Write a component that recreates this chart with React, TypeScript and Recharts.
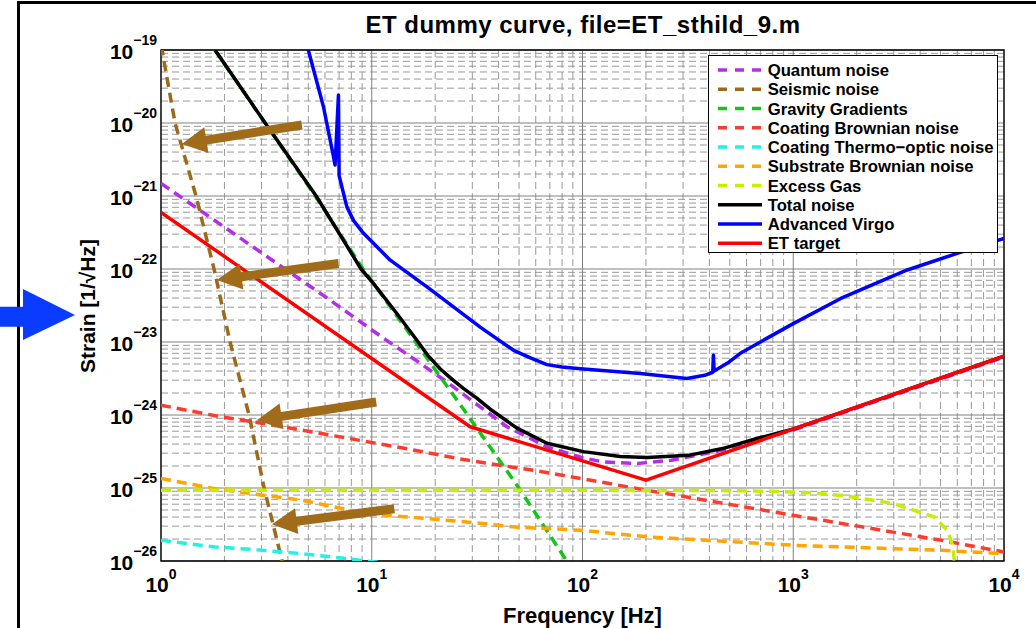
import React from "react";
import {
  LineChart,
  Line,
  XAxis,
  YAxis,
  CartesianGrid,
  ReferenceLine,
  ReferenceArea,
  Legend,
} from "recharts";

const FONT = "'Liberation Sans', Arial, Helvetica, sans-serif";

// frequency [Hz] and strain [1/sqrt(Hz)]
const quantumFreq = [1, 6.35, 11.4, 17, 22.7, 30.4, 43.8, 67.8, 100, 125, 182, 264, 383, 462, 672, 1014, 10000];
const quantumStrain = [1.49e-21, 3.74e-23, 1.12e-23, 5.1e-24, 2.84e-24, 1.51e-24, 6.9e-25, 3.66e-25, 2.6e-25, 2.28e-25, 2.16e-25, 2.4e-25, 2.96e-25, 3.3e-25, 4.5e-25, 6.3e-25, 6.2e-24];

const seismicFreq = [1, 1.011, 1.166, 1.466, 1.785, 2.127, 2.617, 3.084, 3.755, 3.85];
const seismicStrain = [1.15e-19, 1e-19, 1e-20, 1e-21, 1e-22, 1e-23, 1e-24, 1e-25, 1e-26, 8e-27];

const gravityFreq = [1.8, 3.12, 5.39, 9.1, 16.13, 28.5, 49.9, 84.2, 88];
const gravityStrain = [1e-19, 1e-20, 1e-21, 1e-22, 1e-23, 1e-24, 1e-25, 1e-26, 8e-27];

const coatBrownFreq = [1, 1.94, 3.12, 4.66, 6.35, 13.15, 27.3, 65.4, 203, 1014, 5060, 10000];
const coatBrownStrain = [1.36e-24, 9.4e-25, 7.6e-25, 6.2e-25, 5.3e-25, 3.66e-25, 2.45e-25, 1.66e-25, 9.3e-26, 4.2e-26, 1.92e-26, 1.33e-26];

const thermoOpticFreq = [1, 1.805, 2.8, 4.66, 6.58, 9.48, 11];
const thermoOpticStrain = [1.92e-26, 1.56e-26, 1.43e-26, 1.26e-26, 1.13e-26, 1e-26, 9.5e-27];

const substrateFreq = [1, 1.805, 3.12, 4.66, 9.48, 28.3, 48, 99.8, 203, 1014, 5060, 10000];
const substrateStrain = [1.35e-25, 9.8e-26, 7.9e-26, 6.8e-26, 4.46e-26, 3.43e-26, 2.92e-26, 2.63e-26, 2.14e-26, 1.64e-26, 1.4e-26, 1.26e-26];

const excessGasFreq = [1, 100, 500, 800, 1200, 1710, 3000, 4690, 5400, 5700, 5800, 5850];
const excessGasStrain = [9.3e-26, 9.3e-26, 9.2e-26, 9.0e-26, 8.6e-26, 7.9e-26, 6.1e-26, 4.0e-26, 2.6e-26, 1.64e-26, 1.07e-26, 9.5e-27];

const totalFreq = [1.805, 3.12, 5.45, 8.9, 10.2, 13.15, 16.6, 18.5, 21.1, 24, 27.3, 31.5, 36.5, 48.9, 67.8, 101, 151, 203, 318, 462, 672, 1014, 10000];
const totalStrain = [1e-19, 1e-20, 1e-21, 1e-22, 6.3e-23, 2.46e-23, 1e-23, 6.5e-24, 4.3e-24, 3.1e-24, 2.3e-24, 1.7e-24, 1.2e-24, 6.6e-25, 4.1e-25, 3.15e-25, 2.7e-25, 2.62e-25, 2.8e-25, 3.47e-25, 4.76e-25, 6.5e-25, 6.4e-24];

const virgoFreq = [5, 5.9, 6.58, 6.7, 6.95, 7.0, 7.08, 7.62, 8.2, 9.14, 10.96, 12.2, 18.9, 32.7, 47.1, 57, 67.8, 80, 97.6, 188, 313, 380, 415, 418, 421, 486, 561, 752, 1005, 1680, 3475, 6000, 10000];
const virgoStrain = [1e-19, 1.67e-20, 3.5e-21, 2.65e-21, 2.42e-20, 1.9e-21, 1.66e-21, 7.1e-22, 4.6e-22, 3.08e-22, 1.82e-22, 1.33e-22, 5.3e-23, 1.6e-23, 7.7e-24, 6.0e-24, 4.9e-24, 4.55e-24, 4.3e-24, 3.7e-24, 3.16e-24, 3.5e-24, 3.85e-24, 6.6e-24, 4.0e-24, 5.1e-24, 7.0e-24, 1.13e-23, 1.8e-23, 3.95e-23, 9.7e-23, 1.64e-22, 2.63e-22];

const etFreq = [1, 29.3, 200, 10000];
const etStrain = [5.95e-22, 6.9e-25, 1.28e-25, 6.4e-24];

// brown annotation arrows (tail -> tip)
const arrowTailFreq = [4.66, 6.95, 10.5, 12.8];
const arrowTailStrain = [9.4e-21, 1.19e-22, 1.51e-24, 5.2e-26];
const arrowTipFreq = [1.254, 1.84, 2.85, 3.36];
const arrowTipStrain = [5.15e-21, 7.05e-23, 8.5e-25, 3.18e-26];

const xDecades = [1, 10, 100, 1000, 10000];
const yDecades = [1e-26, 1e-25, 1e-24, 1e-23, 1e-22, 1e-21, 1e-20, 1e-19];
const minorSteps = [2, 3, 4, 5, 6, 7, 8, 9];

const xMinor = xDecades.slice(0, -1).flatMap((d) => minorSteps.map((k) => k * d));
const yMinor = yDecades.slice(0, -1).flatMap((d) => minorSteps.map((k) => k * d));

const toPoints = (freq: number[], strain: number[]) =>
  freq.map((f, i) => ({ f, h: strain[i] }));

const series = [
  { name: "Quantum noise", freq: quantumFreq, strain: quantumStrain, color: "#b42ee8", dashed: true },
  { name: "Seismic noise", freq: seismicFreq, strain: seismicStrain, color: "#9c6a18", dashed: true },
  { name: "Gravity Gradients", freq: gravityFreq, strain: gravityStrain, color: "#14c41a", dashed: true },
  { name: "Coating Brownian noise", freq: coatBrownFreq, strain: coatBrownStrain, color: "#ff3b2f", dashed: true },
  { name: "Coating Thermo\u2212optic noise", freq: thermoOpticFreq, strain: thermoOpticStrain, color: "#1ff2e6", dashed: true },
  { name: "Substrate Brownian noise", freq: substrateFreq, strain: substrateStrain, color: "#ffa600", dashed: true },
  { name: "Excess Gas", freq: excessGasFreq, strain: excessGasStrain, color: "#c6ef00", dashed: true },
  { name: "Total noise", freq: totalFreq, strain: totalStrain, color: "#000000", dashed: false },
  { name: "Advanced Virgo", freq: virgoFreq, strain: virgoStrain, color: "#0000ff", dashed: false },
  { name: "ET target", freq: etFreq, strain: etStrain, color: "#ff0000", dashed: false },
];

function XTick(props: any) {
  const { x, y, payload } = props;
  const exp = Math.round(Math.log10(payload.value));
  return (
    <text x={x} y={y + 31} textAnchor="middle" fontFamily={FONT} fontWeight="bold" fill="#000">
      <tspan fontSize={21}>10</tspan>
      <tspan fontSize={14} dy={-13.5}>{exp}</tspan>
    </text>
  );
}

function YTick(props: any) {
  const { x, y, payload } = props;
  const exp = Math.round(Math.log10(payload.value));
  return (
    <text x={x - 4} y={y + 9} textAnchor="end" fontFamily={FONT} fontWeight="bold" fill="#000">
      <tspan fontSize={21}>10</tspan>
      <tspan fontSize={14} dy={-14}>{"\u2212" + Math.abs(exp)}</tspan>
    </text>
  );
}

function ArrowShape(props: any) {
  const { x1, y1, x2, y2 } = props;
  const dx = x2 - x1;
  const dy = y2 - y1;
  const len = Math.hypot(dx, dy) || 1;
  const ux = dx / len;
  const uy = dy / len;
  const nx = -uy;
  const ny = ux;
  const head = 25;
  const hw = 13;
  const sw = 4.5;
  const bx = x2 - ux * head;
  const by = y2 - uy * head;
  const pts = [
    [x1 + nx * sw, y1 + ny * sw],
    [bx + nx * sw, by + ny * sw],
    [bx + nx * hw, by + ny * hw],
    [x2, y2],
    [bx - nx * hw, by - ny * hw],
    [bx - nx * sw, by - ny * sw],
    [x1 - nx * sw, y1 - ny * sw],
  ];
  return <polygon points={pts.map((p) => p.join(",")).join(" ")} fill="#a06c1a" />;
}

function LegendBox() {
  return (
    <div
      style={{
        width: 290,
        height: 198,
        background: "#fff",
        border: "1px solid #000",
        boxSizing: "border-box",
      }}
    >
      <svg width={288} height={196} style={{ display: "block" }}>
        {series.map((s, i) => {
          const cy = 14 + i * 19.26;
          return (
            <g key={s.name}>
              <line
                x1={9}
                x2={53}
                y1={cy}
                y2={cy}
                stroke={s.color}
                strokeWidth={3.5}
                strokeDasharray={s.dashed ? "9 8" : undefined}
              />
              <text x={58.7} y={cy + 6} fontFamily={FONT} fontWeight="bold" fontSize={16.7} fill="#000">
                {s.name}
              </text>
            </g>
          );
        })}
      </svg>
    </div>
  );
}

export default function App() {
  return (
    <div style={{ position: "absolute", left: 0, top: 0, width: 1036, height: 628, background: "#fff" }}>
      <LineChart width={1036} height={628} margin={{ top: 50, right: 32, bottom: 27, left: 91 }}>
        <CartesianGrid
          verticalValues={xMinor}
          horizontalValues={yMinor}
          stroke="#999999"
          strokeDasharray="7 4"
          strokeWidth={1}
        />
        <CartesianGrid
          verticalValues={xDecades}
          horizontalValues={yDecades}
          stroke="#808080"
          strokeWidth={1}
        />
        <XAxis
          type="number"
          dataKey="f"
          scale="log"
          domain={[1, 10000]}
          allowDataOverflow
          ticks={xDecades}
          interval={0}
          tick={<XTick />}
          tickLine={false}
          tickSize={0}
          tickMargin={0}
          axisLine={false}
          height={40}
        />
        <YAxis
          type="number"
          scale="log"
          domain={[1e-26, 1e-19]}
          allowDataOverflow
          ticks={yDecades}
          interval={0}
          tick={<YTick />}
          tickLine={false}
          tickSize={0}
          tickMargin={0}
          axisLine={false}
          width={70}
        />
        {series.map((s) => (
          <Line
            key={s.name}
            name={s.name}
            data={toPoints(s.freq, s.strain)}
            dataKey="h"
            type="linear"
            stroke={s.color}
            strokeWidth={3.5}
            strokeDasharray={s.dashed ? "10 6" : undefined}
            strokeLinejoin="round"
            dot={false}
            activeDot={false}
            isAnimationActive={false}
          />
        ))}
        <ReferenceArea
          x1={1}
          x2={10000}
          y1={1e-26}
          y2={1e-19}
          fill="none"
          stroke="#000"
          strokeWidth={1.3}
          ifOverflow="visible"
        />
        {arrowTailFreq.map((f, i) => (
          <ReferenceLine
            key={"arrow" + i}
            segment={[
              { x: f, y: arrowTailStrain[i] },
              { x: arrowTipFreq[i], y: arrowTipStrain[i] },
            ]}
            ifOverflow="visible"
            shape={ArrowShape}
          />
        ))}
        <Legend
          layout="vertical"
          align="center"
          verticalAlign="middle"
          wrapperStyle={{ left: 708, top: 55, width: 290, height: 198 }}
          content={() => <LegendBox />}
        />
      </LineChart>
      <svg
        width={1036}
        height={628}
        style={{ position: "absolute", left: 0, top: 0, pointerEvents: "none" }}
      >
        <line x1={18.5} y1={1} x2={18.5} y2={628} stroke="#000" strokeWidth={3} />
        <line x1={17} y1={2.5} x2={1036} y2={2.5} stroke="#000" strokeWidth={3} />
        <polygon points="0,306.7 23,306.7 23,289 75,315 23,340 23,326.7 0,326.7" fill="#0a3cff" />
        <text
          x={583}
          y={33}
          textAnchor="middle"
          fontFamily={FONT}
          fontWeight="bold"
          fontSize={24}
          letterSpacing={0.5}
          fill="#000"
        >
          ET dummy curve, file=ET_sthild_9.m
        </text>
        <text x={582.5} y={623} textAnchor="middle" fontFamily={FONT} fontWeight="bold" fontSize={22} fill="#000">
          Frequency [Hz]
        </text>
        <text
          transform="translate(95,306) rotate(-90)"
          textAnchor="middle"
          fontFamily={FONT}
          fontWeight="bold"
          fontSize={21}
          fill="#000"
        >
          Strain [1/√Hz]
        </text>
      </svg>
    </div>
  );
}
